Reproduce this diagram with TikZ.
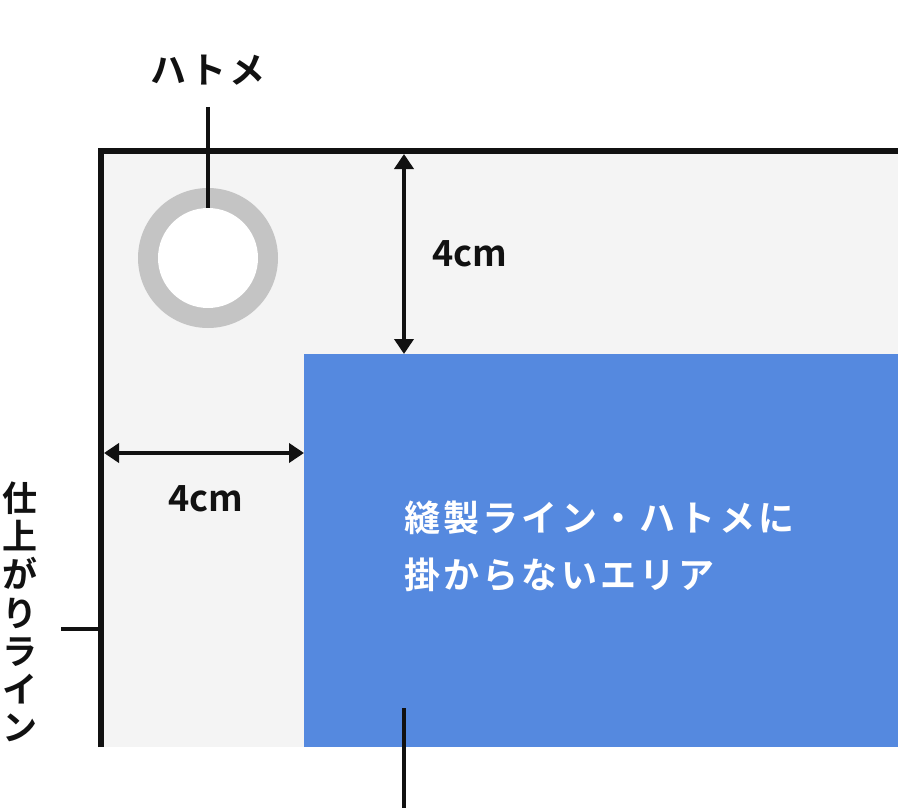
\documentclass[tikz,border=0pt]{standalone}
\usepackage{fontspec}
\newfontfamily\jp{Noto Sans CJK JP}[BoldFont={Noto Sans CJK JP Bold}]
\newfontfamily\jpsp{Noto Sans CJK JP}[BoldFont={Noto Sans CJK JP Bold}, LetterSpace=9]
\usetikzlibrary{arrows.meta}
\definecolor{sheet}{HTML}{F4F4F4}
\definecolor{safe}{HTML}{5589DF}
\definecolor{ring}{HTML}{C4C4C4}
\definecolor{ink}{HTML}{111111}
\tikzset{
  lbl/.style={font=\jp\bfseries\fontsize{36}{40}\selectfont, text=ink, inner sep=0pt},
  jlbl/.style={font=\jpsp\bfseries\fontsize{36}{40}\selectfont, text=ink, inner sep=0pt},
  wlbl/.style={font=\jpsp\bfseries\fontsize{36}{57}\selectfont, text=white, inner sep=0pt, align=left},
  dim/.style={line width=4pt, draw=ink, {Triangle[length=15pt,width=19pt]}-{Triangle[length=15pt,width=19pt]}},
  lead/.style={line width=3.5pt, draw=ink},
}
\begin{document}
\begin{tikzpicture}[x=1pt,y=-1pt]
\useasboundingbox (0,0) rectangle (898,808);
% sheet
\fill[sheet] (100,150) rectangle (898,747);
\fill[safe] (304,354) rectangle (898,747);
\draw[line width=5.5pt, draw=ink] (101,747) -- (101,151) -- (898,151);
% grommet
\node[circle, fill=ring, minimum size=140pt, inner sep=0pt] (ringo) at (208,258) {};
\node[circle, fill=white, minimum size=100pt, inner sep=0pt] (hole) at (208,258) {};
\coordinate (leadtop) at (208,107);
\draw[lead] (leadtop) -- (hole.north);
\node[jlbl] (hatome) at (208,70) {ハトメ};
% dimensions
\coordinate (vtop) at (404,154);
\coordinate (vbot) at (404,354);
\draw[dim] (vtop) -- (vbot);
\node[lbl] (dimv) at (470,254) {4cm};
\coordinate (hleft) at (104,453);
\coordinate (hright) at (304,453);
\draw[dim] (hleft) -- (hright);
\node[lbl] (dimh) at (206,499) {4cm};
% finish line label
\coordinate (tickl) at (61,629);
\coordinate (tickr) at (99,629);
\draw[lead] (tickl) -- (tickr);
\node[lbl, align=center, font=\jp\bfseries\fontsize{35}{38.2}\selectfont] (finish) at (20,612) {仕\\上\\が\\り\\ラ\\イ\\ン};
% safe area text
\node[wlbl, anchor=north west] (area) at (404,501) {縫製ライン・ハトメに\\掛からないエリア};
% bottom lead
\coordinate (bl1) at (404,708);
\coordinate (bl2) at (404,808);
\draw[lead] (bl1) -- (bl2);
\end{tikzpicture}
\end{document}
